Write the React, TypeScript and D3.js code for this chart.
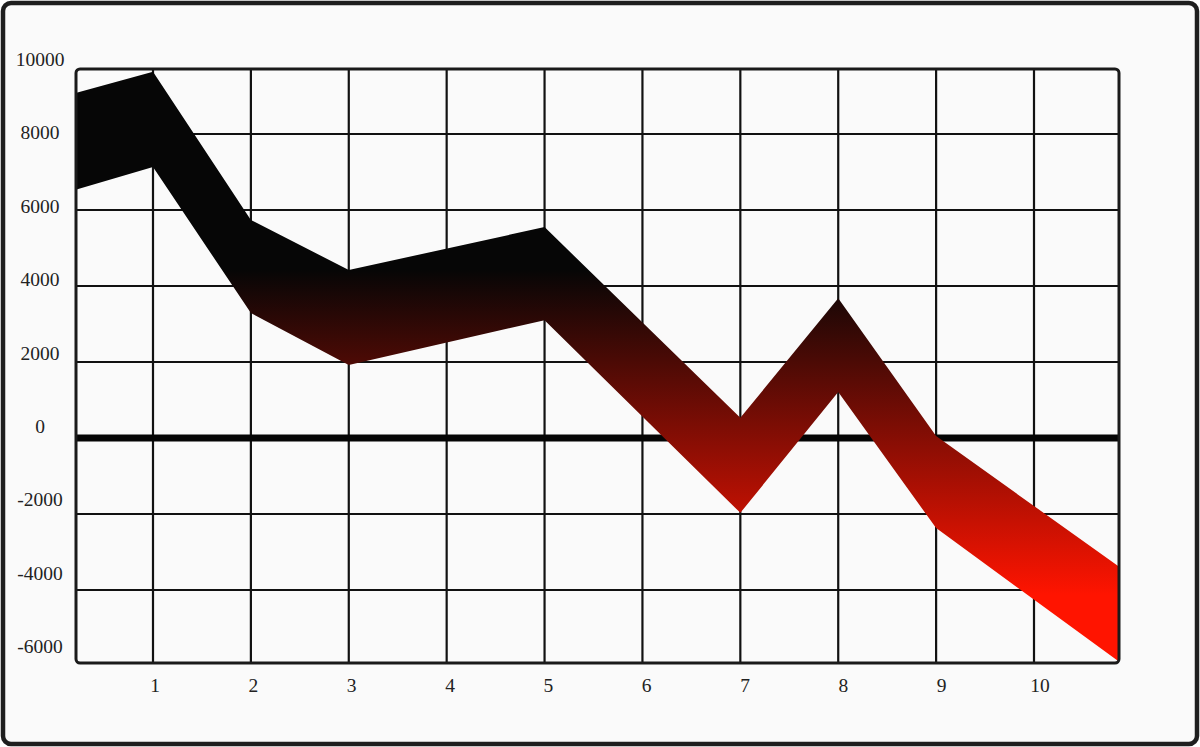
import { area, curveLinear, scaleLinear, scalePoint, select } from 'd3';
import React, { useEffect, useRef } from 'react';

const WIDTH = 1200;
const HEIGHT = 747;
const PLOT_LEFT = 76;
const PLOT_RIGHT = 1119;
const PLOT_TOP = 69;
const PLOT_BOTTOM = 663;

// tick labels as printed on the picture
const Y_LABELS = ['10000', '8000', '6000', '4000', '2000', '0', '-2000', '-4000', '-6000'];
const X_LABELS = ['1', '2', '3', '4', '5', '6', '7', '8', '9', '10'];

// gridlines (data units)
const Y_GRID = [8000, 6000, 4000, 2000, -2000, -4000];
const X_GRID = [1, 2, 3, 4, 5, 6, 7, 8, 9, 10];

// band vertices: x position, top edge and bottom edge of the ribbon
const BAND_X = [0.21, 1, 2, 3, 5, 7, 8, 9, 10.87];
const BAND_UPPER = [9080, 9640, 5740, 4420, 5550, 530, 3680, 50, -3390];
const BAND_LOWER = [6530, 7130, 3290, 1920, 3100, -1970, 1210, -2370, -5890];

const App = (): JSX.Element => {
  const ref = useRef<SVGSVGElement>(null);

  useEffect(() => {
    if (ref.current === null) return;
    ref.current.replaceChildren();

    const x = scaleLinear().domain([1, 10]).range([153, 1034]);
    const y = scaleLinear().domain([-4000, 8000]).range([590, 134]);

    // labels are spaced a little differently from the gridlines
    const yLabel = scalePoint().domain(Y_LABELS).range([66, 653]);
    const xLabel = scalePoint().domain(X_LABELS).range([155, 1040]);

    const svg = select(ref.current)
      .attr('width', WIDTH)
      .attr('height', HEIGHT)
      .attr('viewBox', [0, 0, WIDTH, HEIGHT])
      .style('position', 'absolute')
      .style('left', 0)
      .style('top', 0)
      .style('background', '#ffffff');

    const grad = svg
      .append('defs')
      .append('linearGradient')
      .attr('id', 'bandGrad')
      .attr('gradientUnits', 'userSpaceOnUse')
      .attr('x1', 0)
      .attr('x2', 0)
      .attr('y1', 270)
      .attr('y2', 595);
    grad.append('stop').attr('offset', 0).attr('stop-color', '#060606');
    grad.append('stop').attr('offset', 0.55).attr('stop-color', '#8e0e04');
    grad.append('stop').attr('offset', 1).attr('stop-color', '#ff1400');

    // outer frame
    svg
      .append('rect')
      .attr('x', 3)
      .attr('y', 3)
      .attr('width', WIDTH - 6)
      .attr('height', HEIGHT - 6)
      .attr('rx', 8)
      .attr('fill', '#fafafa')
      .attr('stroke', '#1e1e1e')
      .attr('stroke-width', 4.5);

    const grid = svg.append('g').attr('stroke', '#111').attr('stroke-width', 2.2);
    grid
      .selectAll()
      .data(Y_GRID)
      .join('line')
      .attr('x1', PLOT_LEFT)
      .attr('x2', PLOT_RIGHT)
      .attr('y1', (d) => y(d))
      .attr('y2', (d) => y(d));
    grid
      .selectAll()
      .data(X_GRID)
      .join('line')
      .attr('x1', (d) => x(d))
      .attr('x2', (d) => x(d))
      .attr('y1', PLOT_TOP)
      .attr('y2', PLOT_BOTTOM);

    // thick zero line
    svg
      .append('line')
      .attr('x1', PLOT_LEFT)
      .attr('x2', PLOT_RIGHT)
      .attr('y1', y(0))
      .attr('y2', y(0))
      .attr('stroke', '#050505')
      .attr('stroke-width', 7);

    // the ribbon
    const band = area<number>()
      .x((i) => x(BAND_X[i]))
      .y0((i) => y(BAND_LOWER[i]))
      .y1((i) => y(BAND_UPPER[i]))
      .curve(curveLinear);
    svg
      .append('path')
      .attr('d', band(BAND_X.map((_, i) => i)))
      .attr('fill', 'url(#bandGrad)');

    // plot border
    svg
      .append('rect')
      .attr('x', PLOT_LEFT)
      .attr('y', PLOT_TOP)
      .attr('width', PLOT_RIGHT - PLOT_LEFT)
      .attr('height', PLOT_BOTTOM - PLOT_TOP)
      .attr('rx', 4)
      .attr('fill', 'none')
      .attr('stroke', '#1a1a1a')
      .attr('stroke-width', 3);

    const font = "'Liberation Serif', 'DejaVu Serif', serif";

    svg
      .append('g')
      .attr('font-family', font)
      .attr('font-size', 19.5)
      .attr('fill', '#222')
      .attr('text-anchor', 'middle')
      .selectAll()
      .data(Y_LABELS)
      .join('text')
      .attr('x', 40)
      .attr('y', (d) => yLabel(d) ?? 0)
      .text((d) => d);

    svg
      .append('g')
      .attr('font-family', font)
      .attr('font-size', 19.5)
      .attr('fill', '#222')
      .attr('text-anchor', 'middle')
      .selectAll()
      .data(X_LABELS)
      .join('text')
      .attr('x', (d) => xLabel(d) ?? 0)
      .attr('y', 692)
      .text((d) => d);
  }, []);

  return <svg ref={ref} />;
};

export default App;
